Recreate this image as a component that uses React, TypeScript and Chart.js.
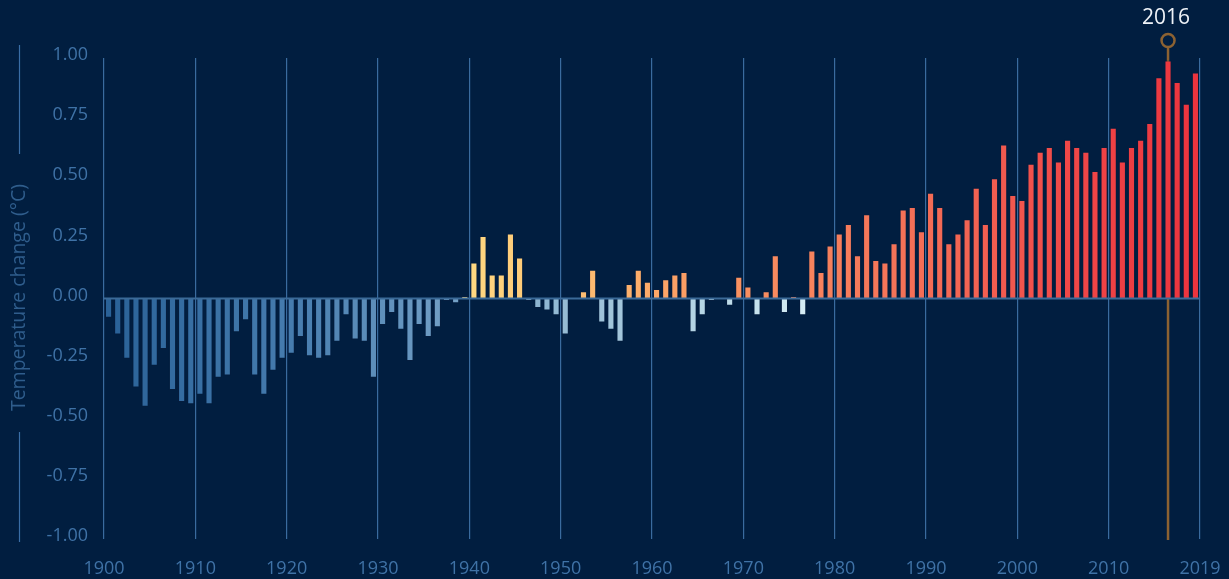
import React, { useEffect, useRef } from 'react';
import { Chart, registerables } from 'chart.js';

Chart.register(...registerables);

const firstYear = 1900;
const years: number[] = Array.from({ length: 120 }, (_, i) => firstYear + i);

const anomalies: number[] = [
  -0.08, -0.15, -0.25, -0.37, -0.45, -0.28, -0.21, -0.38, -0.43, -0.44,
  -0.40, -0.44, -0.33, -0.32, -0.14, -0.09, -0.32, -0.40, -0.30, -0.25,
  -0.23, -0.16, -0.24, -0.25, -0.24, -0.18, -0.07, -0.17, -0.18, -0.33,
  -0.11, -0.06, -0.13, -0.26, -0.11, -0.16, -0.12, -0.01, -0.02, 0.01,
  0.15, 0.26, 0.10, 0.10, 0.27, 0.17, -0.01, -0.04, -0.05, -0.07,
  -0.15, 0.00, 0.03, 0.12, -0.10, -0.13, -0.18, 0.06, 0.12, 0.07,
  0.04, 0.08, 0.10, 0.11, -0.14, -0.07, -0.01, 0.00, -0.03, 0.09,
  0.05, -0.07, 0.03, 0.18, -0.06, 0.01, -0.07, 0.20, 0.11, 0.22,
  0.27, 0.31, 0.18, 0.35, 0.16, 0.15, 0.23, 0.37, 0.38, 0.28,
  0.44, 0.38, 0.23, 0.27, 0.33, 0.46, 0.31, 0.50, 0.64, 0.43,
  0.41, 0.56, 0.61, 0.63, 0.57, 0.66, 0.63, 0.61, 0.53, 0.63,
  0.71, 0.57, 0.63, 0.66, 0.73, 0.92, 0.99, 0.90, 0.81, 0.94,
];

const xTickValues: number[] = [1900, 1910, 1920, 1930, 1940, 1950, 1960, 1970, 1980, 1990, 2000, 2010, 2020];
const xTickLabels: string[] = ['1900', '1910', '1920', '1930', '1940', '1950', '1960', '1970', '1980', '1990', '2000', '2010', '2019'];
const yTickValues: number[] = [1, 0.75, 0.5, 0.25, 0, -0.25, -0.5, -0.75, -1];
const highlightYear = 2016;
const yAxisTitle = 'Temperature change (°C)';

const FONT = '"Open Sans", "DejaVu Sans", sans-serif';
const BG = '#011e40';

type Stop = [number, number[]];
const negStops: Stop[] = [
  [1900, [42, 98, 152]],
  [1920, [70, 124, 174]],
  [1935, [108, 154, 194]],
  [1950, [150, 188, 212]],
  [1965, [182, 214, 229]],
  [1976, [212, 236, 244]],
];
const posStops: Stop[] = [
  [1939, [255, 218, 130]],
  [1945, [254, 204, 121]],
  [1955, [253, 182, 110]],
  [1965, [250, 152, 98]],
  [1980, [246, 126, 92]],
  [1995, [242, 98, 82]],
  [2005, [240, 72, 72]],
  [2019, [236, 52, 62]],
];

function interp(stops: Stop[], yr: number): string {
  if (yr <= stops[0][0]) return `rgb(${stops[0][1].join(',')})`;
  for (let i = 1; i < stops.length; i++) {
    if (yr <= stops[i][0]) {
      const [y0, c0] = stops[i - 1];
      const [y1, c1] = stops[i];
      const t = (yr - y0) / (y1 - y0);
      const c = c0.map((v, k) => Math.round(v + (c1[k] - v) * t));
      return `rgb(${c.join(',')})`;
    }
  }
  return `rgb(${stops[stops.length - 1][1].join(',')})`;
}

function barColor(yr: number, v: number): string {
  return v < 0 ? interp(negStops, yr) : interp(posStops, yr);
}

const overlayPlugin = {
  id: 'overlay',
  beforeDatasetsDraw(chart: any) {
    const { ctx, chartArea, scales } = chart;
    const px = scales.x.getPixelForValue(highlightYear + 0.5);
    ctx.save();
    ctx.strokeStyle = '#8c6232';
    ctx.lineWidth = 2.5;
    ctx.beginPath();
    ctx.moveTo(px, chartArea.top - 11);
    ctx.lineTo(px, chartArea.bottom + 1);
    ctx.stroke();
    ctx.restore();
  },
  afterDatasetsDraw(chart: any) {
    const { ctx, chartArea, scales } = chart;
    const y0 = scales.y.getPixelForValue(0);
    ctx.save();
    ctx.strokeStyle = '#3b6a98';
    ctx.lineWidth = 2;
    ctx.beginPath();
    ctx.moveTo(chartArea.left, y0);
    ctx.lineTo(chartArea.right, y0);
    ctx.stroke();

    const px = scales.x.getPixelForValue(highlightYear + 0.5);
    const cy = chartArea.top - 17.5;
    ctx.strokeStyle = '#8c6232';
    ctx.lineWidth = 2.5;
    ctx.beginPath();
    ctx.arc(px, cy, 6.5, 0, Math.PI * 2);
    ctx.stroke();
    ctx.fillStyle = '#eef2f7';
    ctx.font = `21px ${FONT}`;
    ctx.textAlign = 'center';
    ctx.textBaseline = 'middle';
    ctx.fillText(String(highlightYear), px - 2, chartArea.top - 40);

    const tx = 19;
    const ty = (chartArea.top + chartArea.bottom) / 2 - 1;
    ctx.save();
    ctx.translate(tx, ty);
    ctx.rotate(-Math.PI / 2);
    ctx.fillStyle = '#2f5d8c';
    ctx.font = `19.5px ${FONT}`;
    ctx.textAlign = 'center';
    ctx.textBaseline = 'middle';
    ctx.fillText(yAxisTitle, 0, 0);
    ctx.restore();
    ctx.strokeStyle = '#3a6ea6';
    ctx.lineWidth = 1.2;
    ctx.beginPath();
    ctx.moveTo(19.5, 45);
    ctx.lineTo(19.5, 154);
    ctx.moveTo(19.5, 432);
    ctx.lineTo(19.5, 542);
    ctx.stroke();
    ctx.restore();
  },
};

export default function App() {
  const canvasRef = useRef<HTMLCanvasElement | null>(null);

  useEffect(() => {
    document.body.style.margin = '0';
    document.body.style.background = BG;
    const canvas = canvasRef.current;
    if (!canvas) return;
    const data = years.map((yr, i) => ({ x: yr + 0.5, y: anomalies[i] }));
    const colors = years.map((yr, i) => barColor(yr, anomalies[i]));

    const chart = new Chart(canvas, {
      type: 'bar',
      data: {
        datasets: [
          {
            data,
            backgroundColor: colors,
            borderColor: 'rgba(10,30,60,0.55)',
            borderWidth: 1,
            categoryPercentage: 1,
            barPercentage: 0.78,
          } as any,
        ],
      },
      options: {
        animation: false,
        responsive: false,
        maintainAspectRatio: false,
        layout: { padding: { top: 58, left: 0, right: 29, bottom: 0 } },
        plugins: { legend: { display: false }, tooltip: { enabled: false } },
        scales: {
          x: {
            type: 'linear',
            min: 1900,
            max: 2020,
            offset: false,
            afterBuildTicks(scale: any) {
              scale.ticks = xTickValues.map((v) => ({ value: v }));
            },
            afterFit(scale: any) {
              scale.height = 40;
              scale.paddingLeft = 0;
              scale.paddingRight = 0;
            },
            ticks: {
              autoSkip: false,
              maxRotation: 0,
              padding: 19,
              color: '#3f72a6',
              font: { family: FONT, size: 18 },
              callback: (v: any) => {
                const idx = xTickValues.indexOf(Number(v));
                return idx >= 0 ? xTickLabels[idx] : '';
              },
            },
            grid: {
              offset: false,
              drawTicks: false,
              color: '#3a6b9e',
              lineWidth: 1.2,
            },
            border: { display: false },
          },
          y: {
            type: 'linear',
            min: -1,
            max: 1,
            afterBuildTicks(scale: any) {
              scale.ticks = yTickValues.map((v) => ({ value: v }));
            },
            afterFit(scale: any) {
              scale.width = 104;
              scale.paddingTop = 0;
              scale.paddingBottom = 0;
            },
            ticks: {
              padding: 16,
              labelOffset: -3,
              color: '#3f72a6',
              font: { family: FONT, size: 18 },
              callback: (v: any) => Number(v).toFixed(2),
            },
            grid: { display: false, drawTicks: false },
            border: { display: false },
          },
        },
      } as any,
      plugins: [overlayPlugin],
    });
    return () => chart.destroy();
  }, []);

  return (
    <div style={{ width: 1229, height: 579, background: BG }}>
      <canvas ref={canvasRef} width={1229} height={579} style={{ display: 'block' }} />
    </div>
  );
}
